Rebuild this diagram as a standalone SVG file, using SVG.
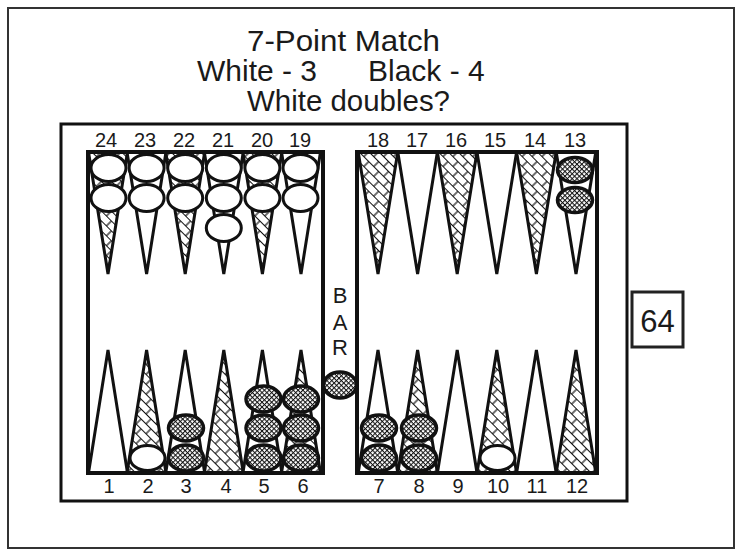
<svg xmlns="http://www.w3.org/2000/svg" width="736" height="550" viewBox="0 0 736 550">
<style>
text{font-family:"Liberation Sans",Arial,sans-serif;fill:#1a1a1a}
.num{font-size:20px;text-anchor:middle}
.title{font-size:30px}
.bar{font-size:22px;text-anchor:middle}
.pt{stroke:#111;stroke-width:3;stroke-linejoin:miter}
.w{fill:#fff}
.h{fill:url(#hatch)}
.cw{fill:#fff;stroke:#111;stroke-width:3}
.cb{fill:url(#dots);stroke:#111;stroke-width:3.5}
.frame{fill:none;stroke:#111;stroke-width:4}
</style>
<defs>
<pattern id="hatch" width="14" height="14" patternUnits="userSpaceOnUse" patternTransform="rotate(45)">
<rect width="14" height="14" fill="#fff"/>
<path d="M0,0.5H14M0,7.5H14M4,0.5V7.5M11,7.5V14.5" stroke="#111" stroke-width="1.2" fill="none"/>
</pattern>
<pattern id="dots" width="3.4" height="3.4" patternUnits="userSpaceOnUse" patternTransform="rotate(45)">
<rect width="3.4" height="3.4" fill="#fff"/>
<path d="M0,0H3.4M0,0V3.4" stroke="#111" stroke-width="2" fill="none"/>
</pattern>
</defs>
<rect x="8" y="8" width="726" height="540" fill="#fff" stroke="#333" stroke-width="2"/>
<g id="title">
<text class="title" x="247" y="51" textLength="193" lengthAdjust="spacingAndGlyphs">7-Point Match</text>
<text class="title" x="197" y="81">White - 3</text>
<text class="title" x="368" y="81">Black - 4</text>
<text class="title" x="247" y="111" textLength="203" lengthAdjust="spacingAndGlyphs">White doubles?</text>
</g>
<g id="board">
<rect x="61" y="124" width="566" height="377" fill="#fff" stroke="#111" stroke-width="3"/>
<rect x="88" y="152" width="235" height="321" fill="#fff"/>
<rect x="357" y="152" width="240" height="321" fill="#fff"/>
</g>
<g id="points-top-left">
<path class="pt h" d="M88.5,152L108,274L127.5,152Z"/>
<path class="pt w" d="M127,152L146.6,274L166,152Z"/>
<path class="pt h" d="M165.7,152L185.2,274L204.7,152Z"/>
<path class="pt w" d="M204.3,152L223.8,274L243.3,152Z"/>
<path class="pt h" d="M242.9,152L262.4,274L281.9,152Z"/>
<path class="pt w" d="M281.5,152L301,274L320.5,152Z"/>
</g>
<g id="points-top-right">
<path class="pt h" d="M358.2,152L378,274L397.8,152Z"/>
<path class="pt w" d="M397.8,152L417.6,274L437.4,152Z"/>
<path class="pt h" d="M437.4,152L457.2,274L477,152Z"/>
<path class="pt w" d="M477,152L496.8,274L516.6,152Z"/>
<path class="pt h" d="M516.6,152L536.4,274L556.2,152Z"/>
<path class="pt w" d="M556.2,152L576,274L595.8,152Z"/>
</g>
<g id="points-bottom-left">
<path class="pt w" d="M88.5,473L108,350L127.5,473Z"/>
<path class="pt h" d="M127,473L146.6,350L166,473Z"/>
<path class="pt w" d="M165.7,473L185.2,350L204.7,473Z"/>
<path class="pt h" d="M204.3,473L223.8,350L243.3,473Z"/>
<path class="pt w" d="M242.9,473L262.4,350L281.9,473Z"/>
<path class="pt h" d="M281.5,473L301,350L320.5,473Z"/>
</g>
<g id="points-bottom-right">
<path class="pt w" d="M358.2,473L378,350L397.8,473Z"/>
<path class="pt h" d="M397.8,473L417.6,350L437.4,473Z"/>
<path class="pt w" d="M437.4,473L457.2,350L477,473Z"/>
<path class="pt h" d="M477,473L496.8,350L516.6,473Z"/>
<path class="pt w" d="M516.6,473L536.4,350L556.2,473Z"/>
<path class="pt h" d="M556.2,473L576,350L595.8,473Z"/>
</g>
<g id="inner-frames">
<rect class="frame" x="88" y="152" width="235" height="321"/>
<rect class="frame" x="357" y="152" width="240" height="321"/>
</g>
<g id="checkers-white">
<ellipse class="cw" cx="108.5" cy="168" rx="17.5" ry="13.5"/>
<ellipse class="cw" cx="108.5" cy="198" rx="17.5" ry="13.5"/>
<ellipse class="cw" cx="146.6" cy="168" rx="17.5" ry="13.5"/>
<ellipse class="cw" cx="146.6" cy="198" rx="17.5" ry="13.5"/>
<ellipse class="cw" cx="185.2" cy="168" rx="17.5" ry="13.5"/>
<ellipse class="cw" cx="185.2" cy="198" rx="17.5" ry="13.5"/>
<ellipse class="cw" cx="223.8" cy="168" rx="17.5" ry="13.5"/>
<ellipse class="cw" cx="223.8" cy="198" rx="17.5" ry="13.5"/>
<ellipse class="cw" cx="223.8" cy="228" rx="17.5" ry="13.5"/>
<ellipse class="cw" cx="262.4" cy="168" rx="17.5" ry="13.5"/>
<ellipse class="cw" cx="262.4" cy="198" rx="17.5" ry="13.5"/>
<ellipse class="cw" cx="300.5" cy="168" rx="17.5" ry="13.5"/>
<ellipse class="cw" cx="300.5" cy="198" rx="17.5" ry="13.5"/>
<ellipse class="cw" cx="147.5" cy="458" rx="17.5" ry="12.5"/>
<ellipse class="cw" cx="497.5" cy="458" rx="17.5" ry="12.5"/>
</g>
<g id="checkers-black">
<ellipse class="cb" cx="575" cy="170" rx="17.5" ry="12.5"/>
<ellipse class="cb" cx="575" cy="200" rx="17.5" ry="12.5"/>
<ellipse class="cb" cx="186" cy="458" rx="17.5" ry="13"/>
<ellipse class="cb" cx="186" cy="428" rx="17.5" ry="13"/>
<ellipse class="cb" cx="263.5" cy="458" rx="17.5" ry="13"/>
<ellipse class="cb" cx="263.5" cy="428" rx="17.5" ry="13"/>
<ellipse class="cb" cx="263.5" cy="399" rx="17.5" ry="13"/>
<ellipse class="cb" cx="301" cy="458" rx="17.5" ry="13"/>
<ellipse class="cb" cx="301" cy="428" rx="17.5" ry="13"/>
<ellipse class="cb" cx="301" cy="399" rx="17.5" ry="13"/>
<ellipse class="cb" cx="379" cy="458" rx="17.5" ry="13"/>
<ellipse class="cb" cx="379" cy="428" rx="17.5" ry="13"/>
<ellipse class="cb" cx="419" cy="458" rx="17.5" ry="13"/>
<ellipse class="cb" cx="419" cy="428" rx="17.5" ry="13"/>
<ellipse class="cb" cx="340" cy="385" rx="16.5" ry="13"/>
</g>
<g id="bar">
<text class="bar" x="340" y="303">B</text>
<text class="bar" x="340" y="330">A</text>
<text class="bar" x="340" y="355">R</text>
</g>
<g id="numbers-top">
<text class="num" x="106" y="147">24</text>
<text class="num" x="145" y="147">23</text>
<text class="num" x="184" y="147">22</text>
<text class="num" x="223" y="147">21</text>
<text class="num" x="262" y="147">20</text>
<text class="num" x="300" y="147">19</text>
<text class="num" x="378" y="147">18</text>
<text class="num" x="417" y="147">17</text>
<text class="num" x="456" y="147">16</text>
<text class="num" x="495" y="147">15</text>
<text class="num" x="535" y="147">14</text>
<text class="num" x="575" y="147">13</text>
</g>
<g id="numbers-bottom">
<text class="num" x="109" y="493">1</text>
<text class="num" x="148" y="493">2</text>
<text class="num" x="186" y="493">3</text>
<text class="num" x="226" y="493">4</text>
<text class="num" x="264" y="493">5</text>
<text class="num" x="303" y="493">6</text>
<text class="num" x="379" y="493">7</text>
<text class="num" x="419" y="493">8</text>
<text class="num" x="458" y="493">9</text>
<text class="num" x="498" y="493">10</text>
<text class="num" x="537" y="493">11</text>
<text class="num" x="577" y="493">12</text>
</g>
<g id="cube">
<rect x="632" y="292" width="51" height="55" fill="#fff" stroke="#222" stroke-width="3"/>
<text x="657.5" y="332" font-size="31" text-anchor="middle">64</text>
</g>
</svg>
